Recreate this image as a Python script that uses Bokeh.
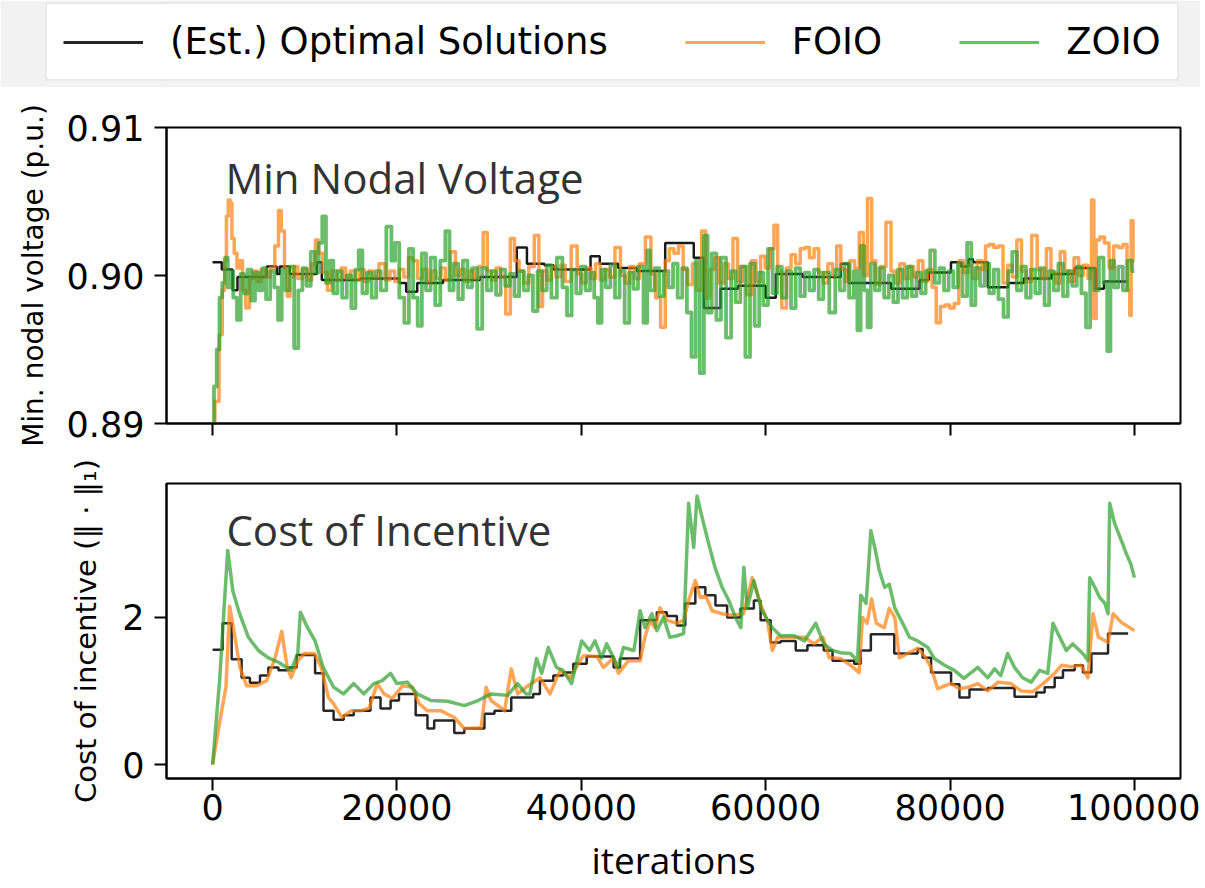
from bokeh.plotting import figure
from bokeh.layouts import column
from bokeh.models import Range1d, FixedTicker, Legend, LegendItem, Label, NumeralTickFormatter
from bokeh.embed import file_html
from bokeh.resources import INLINE

# ---------------- data (x in thousands of iterations) ----------------
x_ticks = [0, 20000, 40000, 60000, 80000, 100000]
volt_ticks = [0.89, 0.90, 0.91]
cost_ticks = [0, 2]

# Min nodal voltage: (est.) optimal solution, step values
opt_volt_k = [0, 1.0, 2.17, 2.7, 5.87, 6.96, 7.28, 8.37, 11.3, 11.85, 16.0, 20.3, 21.0, 22.2, 25.0,
              29.0, 33.0, 34.1, 36.0, 37.0, 41.0, 42.0, 44.0, 46.0, 49.1, 52.2, 53.3, 55.1, 57.0,
              60.0, 61.1, 64.0, 68.15, 69.0, 73.6, 76.7, 77.7, 80.1, 81.2, 82.0, 82.5, 84.1, 86.3,
              88.0, 91.0, 93.5, 95.8, 96.7, 99.3]
opt_volt = [0.9009, 0.9004, 0.8990, 0.8999, 0.9006, 0.9001, 0.9006, 0.9001, 0.9009, 0.8997, 0.8998,
            0.8995, 0.8989, 0.8995, 0.8997, 0.8999, 0.9019, 0.9008, 0.9007, 0.9004, 0.9013, 0.9008,
            0.9005, 0.9003, 0.9022, 0.9012, 0.8978, 0.8991, 0.8993, 0.8985, 0.9001, 0.8999, 0.9008,
            0.8995, 0.8991, 0.8997, 0.9002, 0.9009, 0.9006, 0.9011, 0.9009, 0.8992, 0.8995, 0.8998,
            0.9001, 0.9005, 0.8991, 0.8996, 0.8996]

foio_volt_k = [0, 0.5, 0.9, 1.2, 1.4, 1.6, 1.8, 2.0, 2.2, 2.5, 2.8, 3.1, 3.4, 3.8, 4.2, 4.6, 5.0, 5.5,
               6.0, 6.5, 7.0, 7.3, 7.6, 8.0, 8.2, 8.6, 9.0, 9.5, 10.0, 10.5, 11.0, 11.3, 11.7, 12.2,
               12.7, 13.2, 13.7, 14.2, 14.7, 15.2, 15.7, 16.2, 16.7, 17.2, 17.7, 18.4, 19.0, 19.5,
               20.0, 20.5, 21.0, 21.5, 22.0, 22.5, 23.0, 23.5, 24.0, 24.5, 25.0, 25.5, 26.1, 26.6,
               27.1, 27.6, 28.1, 28.6, 29.1, 29.6, 30.0, 30.5, 31.0, 31.5, 32.1, 32.5, 33.0, 33.5,
               34.0, 34.6, 35.2, 35.6, 36.0, 36.5, 37.0, 37.5, 38.0, 38.5, 39.3, 39.8, 40.3, 40.8,
               41.3, 41.8, 42.3, 42.8, 43.3, 44.0, 44.5, 45.0, 45.5, 46.0, 46.6, 47.3, 47.8, 48.3,
               48.9, 49.3, 49.8, 50.3, 50.8, 51.3, 51.8, 52.3, 52.8, 53.3, 53.7, 54.2, 54.7, 55.2,
               55.7, 56.2, 56.7, 57.2, 57.7, 58.2, 58.7, 59.2, 59.7, 60.2, 60.7, 61.1, 61.5, 62.0,
               62.5, 63.0, 63.5, 64.0, 64.5, 65.0, 65.5, 66.0, 66.5, 67.0, 67.5, 67.9, 68.4, 68.9,
               69.4, 69.9, 70.4, 70.8, 71.3, 71.7, 72.2, 72.7, 73.4, 73.8, 74.3, 74.8, 75.3, 75.8,
               76.3, 76.8, 77.3, 77.8, 78.3, 78.7, 79.2, 79.7, 80.2, 80.7, 81.2, 81.7, 82.2, 82.7,
               83.2, 83.7, 84.0, 84.5, 85.0, 85.5, 86.0, 86.5, 87.0, 87.5, 88.0, 88.5, 89.2, 89.7,
               90.2, 90.7, 91.2, 91.7, 92.2, 92.7, 93.2, 93.7, 94.2, 94.7, 95.2, 95.5, 95.7, 96.0,
               96.5, 97.0, 97.5, 98.0, 98.5, 99.0, 99.4, 99.6, 99.7, 100.0]
foio_volt = [0.8890, 0.8915, 0.8960, 0.8990, 0.9010, 0.9040, 0.9051, 0.9049, 0.9025, 0.9015, 0.9005,
             0.9010, 0.8990, 0.8978, 0.8998, 0.9003, 0.8996, 0.9004, 0.8999, 0.9005, 0.9020, 0.9044,
             0.9030, 0.9005, 0.8986, 0.8999, 0.9006, 0.8998, 0.9004, 0.8997, 0.9008, 0.9024, 0.9015,
             0.9002, 0.8990, 0.9003, 0.8997, 0.9005, 0.8998, 0.9003, 0.8997, 0.9004, 0.8996, 0.9003,
             0.8999, 0.9008, 0.8997, 0.9003, 0.8996, 0.9004, 0.8999, 0.9012, 0.9010, 0.8998, 0.9004,
             0.8996, 0.9003, 0.8998, 0.9005, 0.8997, 0.9016, 0.9000, 0.9004, 0.8996, 0.9003, 0.8998,
             0.9006, 0.9029, 0.9003, 0.8997, 0.9005, 0.8999, 0.8974, 0.9025, 0.9010, 0.9003, 0.8995,
             0.9006, 0.9027, 0.8979, 0.9003, 0.8997, 0.9006, 0.8999, 0.9007, 0.8996, 0.9020, 0.9001,
             0.8995, 0.9005, 0.8998, 0.9008, 0.8997, 0.9004, 0.8999, 0.9019, 0.9000, 0.8995, 0.9006,
             0.8998, 0.9008, 0.9026, 0.9001, 0.8985, 0.8965, 0.9010, 0.9018, 0.9015, 0.9020, 0.9004,
             0.8994, 0.9008, 0.8990, 0.9030, 0.8985, 0.9004, 0.9012, 0.8995, 0.9008, 0.8998, 0.9025,
             0.8996, 0.9006, 0.8987, 0.9010, 0.8996, 0.9013, 0.9005, 0.9018, 0.9034, 0.9003, 0.8978,
             0.9005, 0.9014, 0.9008, 0.9018, 0.9019, 0.9012, 0.9018, 0.9002, 0.8995, 0.9008, 0.9000,
             0.9020, 0.9004, 0.8996, 0.9010, 0.9005, 0.9029, 0.9000, 0.9052, 0.9010, 0.8994, 0.9006,
             0.9036, 0.9003, 0.8995, 0.9008, 0.8998, 0.9006, 0.8999, 0.9010, 0.8996, 0.9004, 0.8992,
             0.8968, 0.8979, 0.8980, 0.8978, 0.8981, 0.9010, 0.9002, 0.9007, 0.8998, 0.9010, 0.9004,
             0.9020, 0.9021, 0.9019, 0.9020, 0.8995, 0.9007, 0.8999, 0.9024, 0.9003, 0.8996, 0.9027,
             0.9004, 0.8998, 0.9018, 0.9002, 0.8995, 0.9016, 0.9003, 0.8996, 0.9012, 0.9000, 0.9007,
             0.8998, 0.9051, 0.8971, 0.9024, 0.9026, 0.9022, 0.9005, 0.9020, 0.9019, 0.9021, 0.8990,
             0.8973, 0.9037, 0.9010]

zoio_volt_k = [0, 0.3, 0.6, 0.9, 1.2, 1.5, 1.8, 2.1, 2.4, 2.9, 3.2, 3.6, 4.0, 4.4, 4.8, 5.2, 5.6, 6.0,
               6.5, 6.9, 7.3, 7.7, 8.1, 8.6, 9.1, 9.5, 10.0, 10.4, 10.9, 11.3, 11.7, 12.1, 12.5,
               12.9, 13.3, 13.8, 14.3, 14.8, 15.3, 15.7, 16.0, 16.5, 17.0, 17.5, 18.0, 18.5, 19.2,
               19.6, 20.0, 20.5, 21.1, 21.5, 22.0, 22.5, 22.9, 23.4, 23.9, 24.4, 25.0, 25.5, 25.9,
               26.4, 26.9, 27.4, 27.9, 28.4, 29.0, 29.5, 30.0, 30.5, 31.0, 31.5, 32.0, 32.5, 33.0,
               33.5, 34.0, 34.5, 35.0, 35.5, 36.0, 36.5, 37.0, 37.7, 38.2, 38.7, 39.2, 39.7, 40.2,
               40.7, 41.2, 41.6, 42.0, 42.4, 42.9, 43.4, 43.9, 44.4, 45.0, 45.4, 45.9, 46.4, 47.1,
               47.2, 47.7, 48.2, 48.7, 49.2, 49.7, 50.2, 50.7, 51.2, 51.7, 52.2, 52.6, 53.1, 53.5,
               53.9, 54.4, 54.9, 55.4, 56.0, 56.5, 57.0, 57.5, 58.1, 58.5, 59.1, 59.5, 60.0, 60.5,
               61.0, 61.5, 62.0, 62.5, 63.0, 63.5, 64.0, 64.5, 65.0, 65.5, 66.0, 66.5, 67.3, 67.8,
               68.3, 68.8, 69.3, 69.8, 70.1, 70.5, 70.9, 71.2, 71.6, 72.1, 72.6, 73.1, 73.6, 74.1,
               74.6, 75.1, 75.6, 76.1, 76.6, 77.1, 77.6, 78.1, 78.6, 79.1, 79.6, 80.1, 80.6, 81.1,
               81.6, 82.1, 82.5, 83.0, 83.5, 84.0, 84.5, 85.0, 85.5, 86.1, 86.5, 87.0, 87.5, 88.0,
               88.5, 89.0, 89.5, 90.0, 90.5, 91.0, 91.5, 92.0, 92.5, 93.0, 93.5, 94.0, 94.5, 95.0,
               95.4, 95.9, 96.4, 96.9, 97.2, 97.6, 98.0, 98.5, 99.0, 99.5, 100.0]
zoio_volt = [0.8890, 0.8925, 0.8950, 0.8985, 0.8995, 0.9012, 0.8992, 0.9003, 0.8985, 0.8970, 0.9001,
             0.8988, 0.9004, 0.8983, 0.9002, 0.8990, 0.9005, 0.8984, 0.9003, 0.8992, 0.8970, 0.9004,
             0.8990, 0.9006, 0.8951, 0.8990, 0.9005, 0.8993, 0.9016, 0.9002, 0.9022, 0.9040, 0.8995,
             0.9010, 0.8988, 0.9003, 0.8985, 0.9000, 0.8978, 0.9004, 0.9017, 0.8988, 0.9002, 0.8985,
             0.9003, 0.8990, 0.9033, 0.9010, 0.9022, 0.8985, 0.8968, 0.9018, 0.8985, 0.8966, 0.9015,
             0.8990, 0.9012, 0.8980, 0.9010, 0.9030, 0.8990, 0.9008, 0.8984, 0.9010, 0.8992, 0.9005,
             0.8964, 0.9005, 0.8990, 0.9003, 0.8987, 0.9004, 0.8993, 0.9001, 0.8986, 0.9003, 0.8990,
             0.9000, 0.8976, 0.9003, 0.8990, 0.9007, 0.8985, 0.9012, 0.8992, 0.8973, 0.9004, 0.8988,
             0.9006, 0.8990, 0.9002, 0.8985, 0.8968, 0.9004, 0.8992, 0.9007, 0.8985, 0.9003, 0.8968,
             0.9002, 0.8991, 0.9006, 0.8968, 0.9017, 0.8990, 0.9005, 0.8986, 0.9003, 0.8992, 0.9008,
             0.8985, 0.9005, 0.8975, 0.8945, 0.9010, 0.8934, 0.9027, 0.8975, 0.9015, 0.8970, 0.9012,
             0.8958, 0.9003, 0.8982, 0.9006, 0.8945, 0.9008, 0.8966, 0.9002, 0.8980, 0.9018, 0.8988,
             0.9006, 0.8985, 0.9003, 0.8978, 0.9005, 0.8986, 0.9002, 0.8990, 0.9004, 0.8984, 0.9002,
             0.8975, 0.9004, 0.8990, 0.9008, 0.8985, 0.9003, 0.8963, 0.9020, 0.8990, 0.8965, 0.9008,
             0.8990, 0.9005, 0.8985, 0.9000, 0.8982, 0.9004, 0.8985, 0.9006, 0.8986, 0.9002, 0.8988,
             0.9003, 0.9017, 0.8995, 0.9005, 0.8990, 0.9003, 0.8992, 0.9008, 0.8986, 0.9022, 0.8980,
             0.9005, 0.8993, 0.9008, 0.8988, 0.9004, 0.8984, 0.8972, 0.9003, 0.9016, 0.8990, 0.9006,
             0.8985, 0.9004, 0.8988, 0.9005, 0.8980, 0.9003, 0.8990, 0.9008, 0.8986, 0.9003, 0.8993,
             0.9006, 0.8988, 0.8965, 0.9004, 0.8990, 0.9012, 0.8995, 0.8949, 0.9010, 0.8992, 0.9006,
             0.8990, 0.9010, 0.9003]

# Cost of incentive
opt_cost_k = [0, 1.09, 2.07, 3.15, 4.05, 5.14, 6.05, 7.14, 8.23, 9.13, 11.12, 12.03, 13.13, 14.22,
              15.31, 17.13, 18.22, 19.31, 20.22, 22.03, 23.31, 24.04, 26.22, 27.31, 29.49, 30.58,
              32.4, 34.78, 35.51, 36.96, 38.04, 39.13, 40.58, 43.5, 44.2, 46.38, 48.19, 49.28,
              50.37, 51.28, 52.37, 53.46, 54.55, 55.82, 57.27, 58.72, 59.45, 60.54, 61.63, 63.26,
              64.53, 66.3, 67.25, 69.6, 70.32, 71.41, 73.95, 76.49, 77.03, 77.94, 80.11, 81.02,
              82.11, 84.1, 87.0, 89.36, 90.26, 91.35, 92.25, 93.52, 94.42, 95.33, 97.14, 99.32]
opt_cost = [1.56, 1.92, 1.43, 1.18, 1.11, 1.21, 1.32, 1.28, 1.32, 1.49, 1.24, 0.73, 0.61, 0.67, 0.73,
            0.91, 0.76, 0.87, 0.96, 0.67, 0.49, 0.60, 0.43, 0.49, 0.69, 0.73, 0.91, 0.96, 1.14, 1.21,
            1.25, 1.37, 1.47, 1.32, 1.44, 1.96, 2.07, 2.02, 1.89, 2.19, 2.41, 2.30, 2.16, 2.00, 2.12,
            2.23, 1.96, 1.66, 1.68, 1.55, 1.62, 1.55, 1.41, 1.37, 1.55, 1.77, 1.51, 1.57, 1.45, 1.25,
            1.09, 0.91, 1.02, 1.04, 0.92, 0.98, 1.05, 1.18, 1.28, 1.35, 1.25, 1.51, 1.78, 1.78]

foio_cost_k = [0, 0.8, 1.45, 1.85, 2.43, 2.97, 3.7, 4.78, 5.87, 6.78, 7.5, 8.1, 8.52, 9.24, 9.96,
               11.05, 11.8, 12.57, 13.1, 14.04, 15.0, 16.1, 17.0, 17.86, 18.6, 19.5, 20.59, 21.7,
               22.4, 23.31, 24.8, 26.22, 27.3, 29.13, 29.67, 30.2, 31.3, 31.68, 32.4, 33.1, 34.0,
               35.51, 36.6, 37.7, 38.76, 40.22, 41.7, 42.39, 43.5, 44.03, 45.1, 46.38, 46.9, 47.47,
               48.0, 48.55, 49.3, 50.37, 51.1, 51.64, 52.37, 52.9, 53.5, 54.19, 55.3, 56.18, 57.6,
               58.54, 59.1, 59.6, 60.18, 60.72, 61.3, 62.72, 64.2, 65.25, 66.2, 66.89, 68.15, 69.2,
               70.14, 70.5, 71.0, 71.49, 72.0, 72.86, 73.41, 74.0, 74.5, 75.4, 76.49, 77.2, 77.94,
               78.66, 79.4, 80.11, 81.0, 81.93, 83.0, 84.1, 85.2, 86.62, 87.7, 89.0, 90.1, 91.35,
               92.1, 93.15, 94.2, 94.96, 95.51, 96.1, 97.14, 97.69, 98.6, 100.0]
foio_cost = [0.00, 0.60, 1.05, 2.15, 1.73, 1.32, 1.07, 1.07, 1.14, 1.45, 1.81, 1.32, 1.18, 1.41, 1.51,
             1.51, 1.32, 0.91, 0.83, 0.64, 0.73, 0.73, 0.77, 1.10, 0.96, 0.90, 1.07, 1.05, 0.83, 0.73,
             0.73, 0.64, 0.49, 0.50, 1.05, 0.87, 0.77, 0.73, 1.30, 0.96, 1.05, 1.18, 0.96, 1.28, 1.18,
             1.48, 1.47, 1.32, 1.45, 1.24, 1.41, 1.41, 1.73, 1.96, 1.86, 2.13, 1.96, 1.92, 1.96, 2.23,
             2.50, 2.27, 2.29, 2.09, 2.05, 2.03, 2.05, 2.54, 2.32, 2.13, 1.96, 1.55, 1.73, 1.73, 1.73,
             1.64, 1.73, 1.45, 1.44, 1.35, 1.25, 2.00, 1.92, 2.25, 1.92, 1.86, 2.12, 2.00, 1.45, 1.51,
             1.58, 1.48, 1.32, 1.03, 1.07, 1.10, 1.03, 1.05, 1.10, 1.00, 1.12, 1.10, 1.00, 0.99, 1.10,
             1.24, 1.35, 1.33, 1.35, 1.18, 2.05, 1.73, 1.66, 2.05, 1.93, 1.82]

zoio_cost_k = [0, 0.76, 1.64, 2.2, 2.93, 3.88, 4.97, 6.05, 7.14, 8.52, 9.24, 9.53, 10.3, 11.12, 12.0,
               13.13, 14.2, 15.31, 16.4, 17.49, 18.4, 19.31, 20.0, 21.12, 22.2, 23.68, 25.5, 27.31,
               28.8, 30.22, 32.0, 33.08, 34.0, 34.42, 35.15, 35.7, 36.42, 37.3, 38.0, 38.94, 40.04,
               40.9, 41.48, 42.2, 42.75, 44.0, 44.57, 45.7, 46.38, 46.9, 47.65, 48.2, 48.92, 49.6,
               50.37, 51.1, 51.64, 52.19, 52.55, 53.1, 53.82, 54.5, 55.27, 56.0, 56.72, 57.3, 57.63,
               58.0, 58.72, 59.5, 60.2, 60.72, 61.6, 63.08, 64.2, 65.43, 66.3, 67.25, 68.15, 69.2,
               69.96, 70.32, 70.9, 71.41, 71.9, 72.32, 72.9, 73.41, 74.0, 74.86, 75.6, 76.49, 77.6,
               78.3, 79.4, 80.47, 81.5, 83.01, 84.1, 84.83, 85.5, 86.25, 87.0, 87.87, 88.8, 89.72,
               90.6, 91.17, 91.7, 92.61, 93.3, 94.06, 94.6, 94.96, 95.15, 95.7, 96.23, 96.8, 97.14,
               97.32, 97.87, 98.6, 99.14, 99.6, 100.0]
zoio_cost = [0.00, 1.14, 2.91, 2.36, 2.05, 1.73, 1.55, 1.45, 1.39, 1.28, 1.51, 2.07, 1.86, 1.68, 1.32,
             1.05, 0.96, 1.10, 0.96, 1.10, 1.14, 1.24, 1.10, 1.12, 0.96, 0.87, 0.86, 0.80, 0.87, 0.96,
             0.94, 1.10, 0.96, 0.96, 1.44, 1.24, 1.59, 1.32, 1.28, 1.10, 1.68, 1.55, 1.68, 1.45, 1.64,
             1.32, 1.59, 1.55, 2.09, 1.86, 2.05, 1.82, 2.00, 1.73, 1.75, 1.78, 3.55, 2.95, 3.65, 3.36,
             3.00, 2.68, 2.41, 2.23, 2.00, 1.86, 2.68, 2.12, 2.50, 2.12, 1.96, 1.86, 1.75, 1.75, 1.68,
             1.92, 1.64, 1.55, 1.52, 1.51, 1.41, 2.30, 2.19, 3.18, 2.91, 2.64, 2.41, 2.45, 2.13, 1.92,
             1.73, 1.68, 1.59, 1.44, 1.35, 1.28, 1.17, 1.32, 1.18, 1.30, 1.21, 1.51, 1.32, 1.18, 1.12,
             1.28, 1.24, 1.92, 1.78, 1.55, 1.64, 1.55, 1.48, 1.41, 2.54, 2.41, 2.27, 2.19, 2.05, 3.55,
             3.27, 3.04, 2.86, 2.73, 2.54]

# ---------------- styling ----------------
BLACK = "black"
ORANGE = "#ff7f0e"
GREEN = "#2ca02c"
TICK_FONT = "DejaVu Sans"
TEXT_FONT = "Open Sans"
W = 1200
LEFT = 166
FRAME_W = 1014


def to_iter(ks):
    return [k * 1000 for k in ks]


def style(p):
    p.outline_line_color = "black"
    p.outline_line_width = 2
    p.grid.visible = False
    p.background_fill_color = "white"
    p.border_fill_color = "white"
    for ax in p.axis:
        ax.axis_line_color = "black"
        ax.axis_line_width = 2
        ax.major_tick_line_color = "black"
        ax.major_tick_line_width = 2
        ax.major_tick_out = 12
        ax.major_tick_in = 0
        ax.minor_tick_line_color = None
        ax.major_label_text_font = TICK_FONT
        ax.major_label_text_font_size = "35px"
        ax.major_label_text_color = "black"
        ax.major_label_standoff = 10
        ax.axis_label_text_font = TICK_FONT
        ax.axis_label_text_font_style = "normal"
        ax.axis_label_text_color = "black"


x_range = Range1d(-5000, 105000)

# ---------- legend strip ----------
# y-range far above the data: the series below are clipped away, only their legend swatches show
leg = figure(frame_width=W, frame_height=87, min_border=0, x_range=(0, 1), y_range=(10, 11),
             toolbar_location=None, output_backend="svg")
leg.axis.visible = False
leg.grid.visible = False
leg.outline_line_color = None
leg.background_fill_color = "#f2f2f2"
leg.border_fill_color = "#f2f2f2"
r_opt = leg.step(to_iter(opt_volt_k), opt_volt, mode="after", line_color=BLACK, line_width=3,
                 line_alpha=0.85)
r_foio = leg.line(to_iter(foio_volt_k), foio_volt, line_color=ORANGE, line_width=3, line_alpha=0.7)
r_zoio = leg.line(to_iter(zoio_volt_k), zoio_volt, line_color=GREEN, line_width=3, line_alpha=0.7)
legend = Legend(items=[LegendItem(label="(Est.) Optimal Solutions", renderers=[r_opt]),
                       LegendItem(label="FOIO", renderers=[r_foio]),
                       LegendItem(label="ZOIO", renderers=[r_zoio])],
                orientation="horizontal", location=(45, 6),
                label_text_font=TICK_FONT, label_text_font_size="37px", label_text_color="black",
                glyph_width=80, glyph_height=30, label_standoff=27, spacing=77, padding=16,
                margin=0, border_line_color="#d4d4d4", border_line_width=2,
                background_fill_color="white", background_fill_alpha=1.0)
leg.add_layout(legend)

# ---------- top: min nodal voltage ----------
top = figure(frame_width=FRAME_W, frame_height=296, x_range=x_range, y_range=Range1d(0.89, 0.91),
             toolbar_location=None, output_backend="svg",
             min_border_left=LEFT, min_border_right=W - LEFT - FRAME_W,
             min_border_top=40, min_border_bottom=35)
top.step(to_iter(opt_volt_k), opt_volt, mode="after", line_color=BLACK, line_width=2.5, line_alpha=0.9)
top.step(to_iter(foio_volt_k), foio_volt, mode="center", line_color=ORANGE, line_width=3.5,
         line_alpha=0.7, line_join="round")
top.step(to_iter(zoio_volt_k), zoio_volt, mode="center", line_color=GREEN, line_width=3.8,
         line_alpha=0.7, line_join="round")
style(top)
top.xaxis.ticker = FixedTicker(ticks=x_ticks)
top.xaxis.major_label_overrides = {t: "" for t in x_ticks}
top.yaxis.ticker = FixedTicker(ticks=volt_ticks)
top.yaxis.formatter = NumeralTickFormatter(format="0.00")
top.yaxis.axis_label = "Min. nodal voltage (p.u.)"
top.yaxis.axis_label_text_font_size = "28px"
top.yaxis.axis_label_standoff = 14
top.add_layout(Label(x=1400, y=0.9066, text="Min Nodal Voltage", text_font=TEXT_FONT,
                     text_font_size="42px", text_color="#333333", text_baseline="alphabetic"))

# ---------- bottom: cost of incentive ----------
bot = figure(frame_width=FRAME_W, frame_height=295, x_range=x_range, y_range=Range1d(-0.19, 3.82),
             toolbar_location=None, output_backend="svg",
             min_border_left=LEFT, min_border_right=W - LEFT - FRAME_W,
             min_border_top=25, min_border_bottom=110)
bot.step(to_iter(opt_cost_k), opt_cost, mode="after", line_color=BLACK, line_width=2.5, line_alpha=0.85)
bot.line(to_iter(foio_cost_k), foio_cost, line_color=ORANGE, line_width=3.5, line_alpha=0.7,
         line_join="round")
bot.line(to_iter(zoio_cost_k), zoio_cost, line_color=GREEN, line_width=3.5, line_alpha=0.7,
         line_join="round")
style(bot)
bot.xaxis.ticker = FixedTicker(ticks=x_ticks)
bot.xaxis.formatter = NumeralTickFormatter(format="0")
bot.xaxis.major_label_standoff = 3
bot.xaxis.axis_label = "iterations"
bot.xaxis.axis_label_text_font = TEXT_FONT
bot.xaxis.axis_label_text_font_size = "37px"
bot.xaxis.axis_label_standoff = 11
bot.yaxis.ticker = FixedTicker(ticks=cost_ticks)
bot.yaxis.axis_label = "Cost of incentive (‖ · ‖₁)"
bot.yaxis.axis_label_text_font_size = "29px"
bot.yaxis.axis_label_standoff = 16
bot.add_layout(Label(x=1500, y=3.19, text="Cost of Incentive", text_font=TEXT_FONT,
                     text_font_size="42px", text_color="#333333", text_baseline="alphabetic"))

layout = column(leg, top, bot, spacing=0)
open("out.html", "w").write(file_html(layout, INLINE))
